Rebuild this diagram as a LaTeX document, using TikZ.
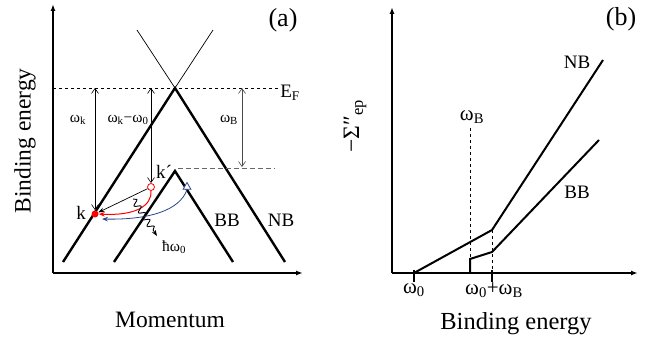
\documentclass[tikz,border=0pt]{standalone}
\usepackage{fontspec}
\setmainfont{Liberation Serif}
\usetikzlibrary{arrows.meta,decorations.pathmorphing,shapes.geometric}
\definecolor{navy}{RGB}{40,70,140}
\newcommand{\om}{ω}
\tikzset{
  band/.style={line width=2.4pt},
  axisline/.style={line width=1.8pt,-{Latex[length=7pt,width=5pt]}},
  gap/.style={{Straight Barb[length=5pt,width=7pt]}-{Straight Barb[length=5pt,width=7pt]},line width=0.6pt},
  tagtxt/.style={font=\fontsize{26}{28}\selectfont},
  bigtxt/.style={font=\fontsize{23.5}{26}\selectfont},
  midtxt/.style={font=\fontsize{19}{21}\selectfont},
  omtxt/.style={font=\fontsize{21}{23}\selectfont},
  smalltxt/.style={font=\fontsize{15.5}{17}\selectfont},
}
\begin{document}
\begin{tikzpicture}[x=1pt,y=-1pt]
    \useasboundingbox (0,0) rectangle (647,339);
    % ---------- panel (a)
    \coordinate (oa) at (53,273);
    \draw[axisline] (oa) -- (53,4);
    \draw[axisline] (oa) -- (303,273);
    \node[bigtxt,rotate=90] (ylaba) at (25,141) {Binding energy};
    \node[bigtxt] (xlaba) at (170,320) {Momentum};
    \node[tagtxt] (tagA) at (283,20) {(a)};
    % Fermi level
    \draw[dashed,line width=0.8pt] (53,88) -- (280,88);
    \node[midtxt] (ef) at (290,93) {E\textsubscript{F}};
    % normal band
    \coordinate (nbtop) at (175,88);
    \draw[band] (63,262) -- (nbtop) -- (285,262);
    \draw[line width=0.7pt] (137,30) -- (nbtop) -- (213,30);
    \node[midtxt] (nb) at (281,220) {NB};
    % bonding band
    \coordinate (bbtop) at (175,171);
    \draw[band] (114,262) -- (bbtop) -- (233,262);
    \draw[dash pattern=on 5pt off 3pt,black!60,line width=1pt] (178,169) -- (275,169);
    \node[midtxt] (bb) at (227,220) {BB};
    % energies
    \draw[gap] (95,88) -- (95,210);
    \node[smalltxt] (wk) at (78,120) {\om\textsubscript{k}};
    \draw[gap] (151,88) -- (151,183);
    \node[smalltxt] (wkw0) at (128,120) {\om\textsubscript{k}−\om\textsubscript{0}};
    \draw[gap,black!70] (242,88) -- (242,167);
    \node[smalltxt] (wb) at (229,120) {\om\textsubscript{B}};
    % states
    \node[circle,fill=red,inner sep=0pt,minimum size=7pt] (k) at (95,214) {};
    \node[midtxt] (lk) at (81,213) {k};
    \node[circle,draw=red,fill=white,line width=0.8pt,inner sep=0pt,minimum size=7pt] (kp) at (151,187) {};
    \node[midtxt] (lkp) at (164,172) {k´};
    \node[regular polygon,regular polygon sides=3,draw=navy,fill=white,line width=0.8pt,
      inner sep=0pt,minimum size=9pt] (tri) at (187,187) {};
    \coordinate (kb) at (102,219);
    % scattering
    \draw[line width=0.7pt,-{Stealth[length=6pt]}] (kp) -- (k);
    \draw[red,line width=1pt,-{Stealth[length=6pt]}] (kp.south) .. controls (152,206) and (135,216) .. (k.east);
    \draw[navy,line width=0.8pt,-{Stealth[length=6pt]}] (tri.south) .. controls (180,210) and (150,220) .. (kb);
    \coordinate (ph1) at (133,199);
    \coordinate (ph2) at (157,236);
    \draw[line width=0.9pt,decorate,decoration={snake,amplitude=3pt,segment length=8pt,post length=6pt},
      -{Stealth[length=6pt]}] (ph1) -- (ph2);
    \node[smalltxt] (hw) at (174,247) {ħ\om\textsubscript{0}};
    % ---------- panel (b)
    \coordinate (ob) at (392,273);
    \draw[axisline] (ob) -- (392,7);
    \draw[axisline] (ob) -- (638,273);
    \node[bigtxt,rotate=90] (ylabb) at (355,126) {−Σ″\textsubscript{ep}};
    \node[font=\fontsize{24.5}{27}\selectfont] (xlabb) at (516,324) {Binding energy};
    \node[tagtxt] (tagB) at (621,19) {(b)};
    \foreach \xx in {414,492}{%
      \draw[line width=2pt] (\xx,270) -- (\xx,282);}
    \node[omtxt] (w0) at (414,290) {\om\textsubscript{0}};
    \node[omtxt] (w0wb) at (494,290) {\om\textsubscript{0}+\om\textsubscript{B}};
    % thresholds
    \draw[dashed,line width=0.8pt] (470,128) -- (470,260);
    \draw[dashed,line width=0.8pt] (492,230) -- (492,270);
    \node[omtxt] (wbb) at (472,117) {\om\textsubscript{B}};
    % self-energy curves
    \draw[line width=2pt] (414,273) -- (492,230) -- (603,60);
    \draw[line width=2pt] (470,273) -- (470,259) -- (492,252) -- (599,140);
    \node[midtxt] (nbb) at (577,62) {NB};
    \node[midtxt] (bbb) at (577,192) {BB};
\end{tikzpicture}
\end{document}
